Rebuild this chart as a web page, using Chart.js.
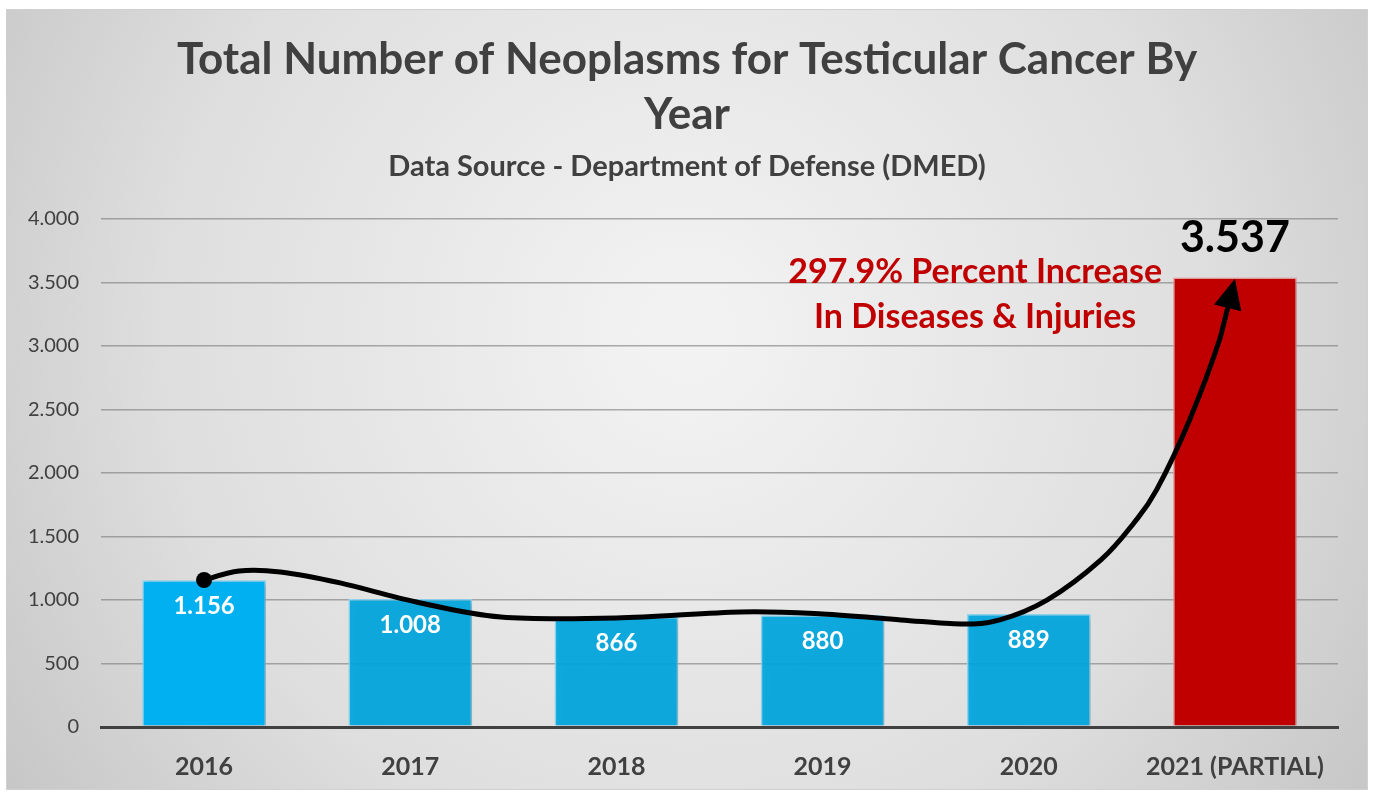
<!DOCTYPE html>
<html>
<head>
<meta charset="utf-8">
<script src="https://cdn.jsdelivr.net/npm/chart.js@4.4.0/dist/chart.umd.min.js"></script>
<style>
html,body{margin:0;padding:0;background:#fff;}
#wrap{width:1374px;height:793px;position:relative;}
</style>
</head>
<body>
<div id="wrap"><canvas id="chart"></canvas></div>
<script>
// ------------ Données ------------
const YEARS = ["2016", "2017", "2018", "2019", "2020", "2021 (PARTIAL)"];
const CASES = [1156, 1008, 866, 880, 889, 3537];
const BAR_COLORS = ["#00b0f0", "rgba(0,166,222,0.92)", "rgba(0,166,222,0.92)", "rgba(0,166,222,0.92)", "rgba(0,166,222,0.92)", "#c00000"];
const BAR_BORDERS = ["#8fd8f5", "#8fd8f5", "#8fd8f5", "#8fd8f5", "#8fd8f5", "#e8a0a0"];
const Y_MAX = 4000;
const Y_STEP = 500;
const TITLE_LINES = ["Total Number of Neoplasms for Testicular Cancer By", "Year"];
const SUBTITLE = "Data Source - Department of Defense (DMED)";
const NOTE_LINES = ["297.9% Percent Increase", "In Diseases & Injuries"];
// courbe de la flèche, en unités du graphique : [index catégorie, valeur]
const ARROW_PATH = [[0, 1157], [0.17, 1228], [0.37, 1220], [0.66, 1134], [1.03, 984], [1.44, 866], [2.0, 858],
  [2.6, 906], [3.0, 890], [3.38, 843], [3.67, 811], [3.86, 843], [4.09, 1000], [4.35, 1315], [4.51, 1606],
  [4.62, 1866], [4.78, 2417], [4.93, 3071], [5.0, 3528]];

const FONT = "Lato, 'Open Sans', sans-serif";
const GREY_TXT = "#404040";

function fmt(n){ return String(n).replace(/\B(?=(\d{3})+(?!\d))/g, "."); }

// ------------ Fond gris dégradé ------------
const bgPlugin = {
  id: "bg",
  beforeDraw(chart){
    const c = chart.ctx, w = chart.width, h = chart.height;
    c.save();
    c.fillStyle = "#fff";
    c.fillRect(0, 0, w, h);
    const g = c.createRadialGradient(w*0.5, h*0.42, 40, w*0.5, h*0.42, w*0.62);
    g.addColorStop(0, "#f2f2f2");
    g.addColorStop(0.6, "#dedede");
    g.addColorStop(1, "#c4c4c4");
    c.fillStyle = g;
    c.fillRect(6, 9, w - 12, h - 12);
    c.strokeStyle = "#d0d0d0";
    c.lineWidth = 1;
    c.strokeRect(6.5, 9.5, w - 13, h - 13);
    c.restore();
  }
};

// ------------ Ombre légère des barres ------------
const shadowPlugin = {
  id: "barShadow",
  beforeDatasetsDraw(chart){
    const c = chart.ctx;
    c.save();
    c.shadowColor = "rgba(0,0,0,0.22)";
    c.shadowBlur = 6;
    c.shadowOffsetX = 3;
    c.shadowOffsetY = 2;
  },
  afterDatasetsDraw(chart){ chart.ctx.restore(); }
};

// ------------ Étiquettes, texte rouge, flèche ------------
const overlayPlugin = {
  id: "overlay",
  afterDatasetsDraw(chart){
    const c = chart.ctx;
    const xs = chart.scales.x, ys = chart.scales.y;
    const meta = chart.getDatasetMeta(0);
    c.save();
    c.textAlign = "center";
    meta.data.forEach((bar, i) => {
      if (i < CASES.length - 1) {
        c.fillStyle = "#fff";
        c.font = "bold 24px " + FONT;
        c.textBaseline = "top";
        c.fillText(fmt(CASES[i]), bar.x, bar.y + 14);
      } else {
        c.fillStyle = "#000";
        c.font = "bold 43px " + FONT;
        c.textBaseline = "middle";
        c.fillText(fmt(CASES[i]), bar.x, ys.getPixelForValue(3850));
      }
    });

    // texte rouge
    c.fillStyle = "#c00000";
    c.font = "bold 34px " + FONT;
    c.textBaseline = "middle";
    c.fillText(NOTE_LINES[0], xs.getPixelForValue(3.74), ys.getPixelForValue(3583));
    c.fillText(NOTE_LINES[1], xs.getPixelForValue(3.74), ys.getPixelForValue(3228));

    // flèche (Catmull-Rom)
    const pts = ARROW_PATH.map(p => [xs.getPixelForValue(p[0]), ys.getPixelForValue(p[1])]);
    const tip = pts[pts.length - 1], prev = pts[pts.length - 2];
    const ang = Math.atan2(tip[1] - prev[1], tip[0] - prev[0]);
    const L = 30, W = 14;
    const stop = [tip[0] - (L - 6) * Math.cos(ang), tip[1] - (L - 6) * Math.sin(ang)];
    c.strokeStyle = "#000";
    c.lineWidth = 5;
    c.lineCap = "round";
    c.beginPath();
    c.moveTo(pts[0][0], pts[0][1]);
    for (let i = 0; i < pts.length - 1; i++) {
      const p0 = pts[Math.max(i - 1, 0)], p1 = pts[i], p2 = pts[i + 1], p3 = pts[Math.min(i + 2, pts.length - 1)];
      const c1x = p1[0] + (p2[0] - p0[0]) / 6, c1y = p1[1] + (p2[1] - p0[1]) / 6;
      const c2x = p2[0] - (p3[0] - p1[0]) / 6, c2y = p2[1] - (p3[1] - p1[1]) / 6;
      if (i === pts.length - 2) c.lineTo(stop[0], stop[1]);
      else c.bezierCurveTo(c1x, c1y, c2x, c2y, p2[0], p2[1]);
    }
    c.stroke();

    // point de départ
    c.fillStyle = "#000";
    c.beginPath();
    c.arc(pts[0][0], pts[0][1], 8, 0, Math.PI * 2);
    c.fill();

    // pointe
    c.beginPath();
    c.moveTo(tip[0], tip[1]);
    c.lineTo(tip[0] - L * Math.cos(ang) + W * Math.sin(ang), tip[1] - L * Math.sin(ang) - W * Math.cos(ang));
    c.lineTo(tip[0] - L * Math.cos(ang) - W * Math.sin(ang), tip[1] - L * Math.sin(ang) + W * Math.cos(ang));
    c.closePath();
    c.fill();
    c.restore();
  }
};

// ------------ Graphique ------------
new Chart(document.getElementById("chart"), {
  type: "bar",
  data: {
    labels: YEARS,
    datasets: [{
      data: CASES,
      backgroundColor: BAR_COLORS,
      borderColor: BAR_BORDERS,
      borderWidth: 1.5,
      categoryPercentage: 0.6,
      barPercentage: 1.0
    }]
  },
  options: {
    responsive: true,
    maintainAspectRatio: false,
    animation: false,
    layout: { padding: { left: 20, right: 20, top: 32, bottom: 0 } },
    plugins: {
      legend: { display: false },
      tooltip: { enabled: false },
      title: {
        display: true,
        text: TITLE_LINES,
        color: GREY_TXT,
        font: { family: FONT, size: 44, weight: "bold", lineHeight: 1.25 },
        padding: { top: 0, bottom: 7 }
      },
      subtitle: {
        display: true,
        text: SUBTITLE,
        color: GREY_TXT,
        font: { family: FONT, size: 29, weight: "bold" },
        padding: { top: 0, bottom: 35 }
      }
    },
    scales: {
      x: {
        grid: { display: false, drawTicks: false },
        border: { display: true, color: "#404040", width: 3 },
        ticks: { color: GREY_TXT, font: { family: FONT, size: 25, weight: "bold" }, padding: 25 },
        afterFit: (s) => { s.height = 66; }
      },
      y: {
        min: 0,
        max: Y_MAX,
        ticks: { stepSize: Y_STEP, color: GREY_TXT, font: { family: FONT, size: 20 }, padding: 22, callback: v => fmt(v) },
        border: { display: false },
        grid: { color: (ctx) => ctx.tick.value === 0 ? "#404040" : "rgba(120,120,120,0.6)", lineWidth: (ctx) => ctx.tick.value === 0 ? 3 : 1.5, drawTicks: false },
        afterFit: (s) => { s.width = 81; }
      },
      // axe vide à droite : simple marge pour garder le titre centré
      yRight: {
        position: "right",
        grid: { display: false, drawTicks: false },
        border: { display: false },
        ticks: { display: false },
        afterFit: (s) => { s.width = 16; }
      }
    }
  },
  plugins: [bgPlugin, shadowPlugin, overlayPlugin]
});
</script>
</body>
</html>
